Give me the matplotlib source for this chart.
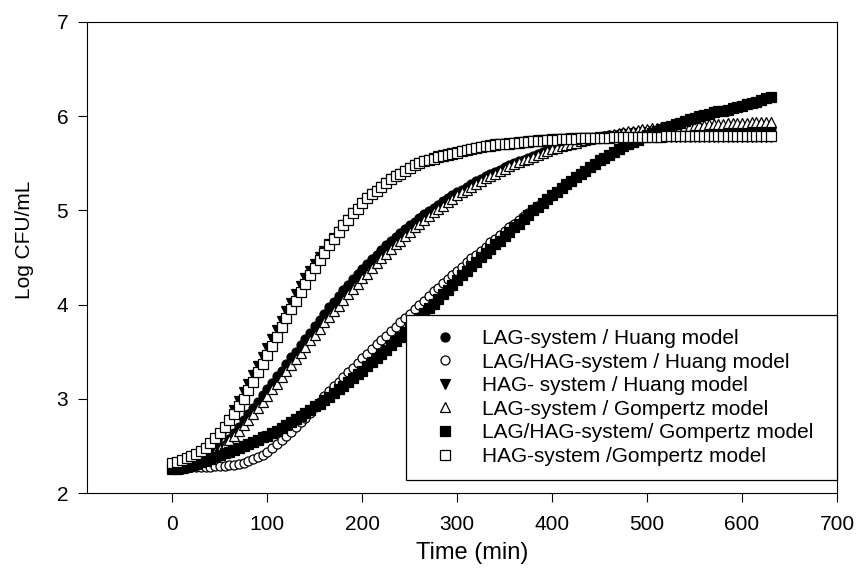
import matplotlib
matplotlib.use('Agg')
import matplotlib.pyplot as plt

plt.rcParams['font.family'] = ['Liberation Sans', 'DejaVu Sans']

# time points (min), shared by all model curves
time_min = [0, 5, 10, 15, 20, 25, 30, 35, 40, 45,
            50, 55, 60, 65, 70, 75, 80, 85, 90, 95,
            100, 105, 110, 115, 120, 125, 130, 135, 140, 145,
            150, 155, 160, 165, 170, 175, 180, 185, 190, 195,
            200, 205, 210, 215, 220, 225, 230, 235, 240, 245,
            250, 255, 260, 265, 270, 275, 280, 285, 290, 295,
            300, 305, 310, 315, 320, 325, 330, 335, 340, 345,
            350, 355, 360, 365, 370, 375, 380, 385, 390, 395,
            400, 405, 410, 415, 420, 425, 430, 435, 440, 445,
            450, 455, 460, 465, 470, 475, 480, 485, 490, 495,
            500, 505, 510, 515, 520, 525, 530, 535, 540, 545,
            550, 555, 560, 565, 570, 575, 580, 585, 590, 595,
            600, 605, 610, 615, 620, 625, 630]

lag_huang = [2.26, 2.26, 2.26, 2.27, 2.28, 2.29, 2.31, 2.33, 2.36, 2.40,
             2.45, 2.51, 2.57, 2.64, 2.70, 2.77, 2.84, 2.90, 2.97, 3.04,
             3.10, 3.17, 3.24, 3.30, 3.37, 3.44, 3.50, 3.57, 3.64, 3.70,
             3.77, 3.84, 3.90, 3.97, 4.03, 4.09, 4.15, 4.21, 4.27, 4.33,
             4.38, 4.43, 4.48, 4.53, 4.58, 4.63, 4.67, 4.72, 4.76, 4.80,
             4.84, 4.88, 4.92, 4.96, 4.99, 5.03, 5.06, 5.10, 5.13, 5.16,
             5.19, 5.22, 5.25, 5.28, 5.31, 5.33, 5.36, 5.39, 5.41, 5.43,
             5.46, 5.48, 5.50, 5.52, 5.54, 5.56, 5.58, 5.60, 5.62, 5.64,
             5.65, 5.67, 5.68, 5.70, 5.71, 5.72, 5.74, 5.75, 5.76, 5.77,
             5.78, 5.79, 5.80, 5.80, 5.81, 5.82, 5.82, 5.83, 5.83, 5.84,
             5.84, 5.85, 5.85, 5.85, 5.86, 5.86, 5.86, 5.86, 5.86, 5.87,
             5.87, 5.87, 5.87, 5.87, 5.87, 5.87, 5.87, 5.87, 5.87, 5.87,
             5.87, 5.87, 5.87, 5.87, 5.87, 5.87, 5.87]

laghag_huang = [2.28, 2.28, 2.28, 2.28, 2.28, 2.28, 2.28, 2.28, 2.28, 2.29,
                2.29, 2.29, 2.30, 2.30, 2.31, 2.32, 2.34, 2.36, 2.38, 2.40,
                2.43, 2.48, 2.52, 2.56, 2.61, 2.65, 2.70, 2.75, 2.80, 2.85,
                2.91, 2.97, 3.03, 3.08, 3.14, 3.18, 3.23, 3.28, 3.33, 3.38,
                3.43, 3.48, 3.53, 3.58, 3.62, 3.67, 3.72, 3.76, 3.81, 3.86,
                3.90, 3.95, 4.00, 4.04, 4.09, 4.14, 4.18, 4.23, 4.27, 4.31,
                4.36, 4.40, 4.45, 4.49, 4.53, 4.57, 4.61, 4.66, 4.70, 4.74,
                4.78, 4.82, 4.86, 4.90, 4.94, 4.97, 5.01, 5.05, 5.08, 5.12,
                5.16, 5.20, 5.24, 5.28, 5.31, 5.35, 5.39, 5.42, 5.46, 5.49,
                5.53, 5.56, 5.59, 5.62, 5.65, 5.68, 5.71, 5.73, 5.75, 5.78,
                5.80, 5.82, 5.84, 5.86, 5.88, 5.90, 5.92, 5.93, 5.95, 5.97,
                5.98, 6.00, 6.01, 6.02, 6.04, 6.05, 6.06, 6.07, 6.09, 6.10,
                6.11, 6.13, 6.14, 6.15, 6.17, 6.19, 6.20]

hag_huang = [2.26, 2.26, 2.26, 2.27, 2.28, 2.29, 2.31, 2.35, 2.41, 2.49,
             2.58, 2.68, 2.78, 2.88, 2.98, 3.07, 3.16, 3.25, 3.35, 3.44,
             3.54, 3.63, 3.73, 3.83, 3.93, 4.02, 4.11, 4.20, 4.28, 4.36,
             4.43, 4.50, 4.57, 4.64, 4.71, 4.77, 4.84, 4.90, 4.97, 5.02,
             5.08, 5.13, 5.17, 5.21, 5.25, 5.29, 5.33, 5.36, 5.39, 5.42,
             5.45, 5.48, 5.50, 5.52, 5.54, 5.56, 5.58, 5.59, 5.60, 5.61,
             5.62, 5.63, 5.64, 5.65, 5.66, 5.67, 5.68, 5.69, 5.70, 5.70,
             5.71, 5.72, 5.72, 5.73, 5.73, 5.74, 5.74, 5.75, 5.75, 5.75,
             5.76, 5.76, 5.76, 5.76, 5.77, 5.77, 5.77, 5.77, 5.77, 5.77,
             5.78, 5.78, 5.78, 5.78, 5.78, 5.78, 5.78, 5.78, 5.78, 5.78,
             5.78, 5.78, 5.78, 5.78, 5.78, 5.78, 5.78, 5.78, 5.78, 5.78,
             5.78, 5.78, 5.78, 5.78, 5.78, 5.78, 5.78, 5.78, 5.78, 5.78,
             5.78, 5.78, 5.78, 5.78, 5.78, 5.78, 5.78]

lag_gompertz = [2.28, 2.28, 2.29, 2.30, 2.31, 2.33, 2.35, 2.37, 2.40, 2.43,
                2.47, 2.51, 2.56, 2.61, 2.66, 2.72, 2.78, 2.84, 2.90, 2.97,
                3.03, 3.10, 3.16, 3.23, 3.29, 3.36, 3.42, 3.49, 3.55, 3.62,
                3.68, 3.74, 3.81, 3.87, 3.93, 3.99, 4.05, 4.11, 4.17, 4.22,
                4.28, 4.33, 4.39, 4.44, 4.49, 4.54, 4.59, 4.64, 4.68, 4.73,
                4.77, 4.82, 4.86, 4.90, 4.94, 4.98, 5.02, 5.05, 5.09, 5.12,
                5.16, 5.19, 5.22, 5.25, 5.28, 5.31, 5.34, 5.37, 5.39, 5.42,
                5.44, 5.47, 5.49, 5.51, 5.53, 5.55, 5.57, 5.59, 5.61, 5.63,
                5.65, 5.66, 5.68, 5.69, 5.71, 5.72, 5.74, 5.75, 5.76, 5.77,
                5.78, 5.79, 5.80, 5.81, 5.82, 5.83, 5.84, 5.84, 5.85, 5.86,
                5.86, 5.87, 5.87, 5.88, 5.88, 5.89, 5.89, 5.90, 5.90, 5.90,
                5.91, 5.91, 5.91, 5.92, 5.92, 5.92, 5.92, 5.93, 5.93, 5.93,
                5.93, 5.93, 5.94, 5.94, 5.94, 5.94, 5.94]

laghag_gompertz = [2.25, 2.26, 2.27, 2.29, 2.30, 2.31, 2.33, 2.34, 2.36, 2.38,
                   2.40, 2.42, 2.44, 2.46, 2.48, 2.50, 2.52, 2.54, 2.56, 2.59,
                   2.61, 2.64, 2.66, 2.69, 2.72, 2.75, 2.79, 2.82, 2.85, 2.88,
                   2.92, 2.95, 2.99, 3.02, 3.06, 3.10, 3.14, 3.18, 3.22, 3.26,
                   3.30, 3.35, 3.39, 3.43, 3.48, 3.52, 3.57, 3.61, 3.66, 3.71,
                   3.76, 3.81, 3.86, 3.91, 3.96, 4.01, 4.06, 4.11, 4.16, 4.21,
                   4.26, 4.31, 4.36, 4.41, 4.45, 4.50, 4.55, 4.59, 4.64, 4.68,
                   4.73, 4.77, 4.82, 4.86, 4.91, 4.95, 5.00, 5.04, 5.08, 5.12,
                   5.16, 5.20, 5.24, 5.28, 5.31, 5.35, 5.39, 5.42, 5.46, 5.49,
                   5.53, 5.56, 5.59, 5.62, 5.65, 5.68, 5.71, 5.73, 5.75, 5.78,
                   5.80, 5.82, 5.84, 5.86, 5.88, 5.90, 5.92, 5.93, 5.95, 5.97,
                   5.98, 6.00, 6.01, 6.02, 6.04, 6.05, 6.06, 6.07, 6.09, 6.10,
                   6.11, 6.13, 6.14, 6.15, 6.17, 6.19, 6.20]

hag_gompertz = [2.32, 2.33, 2.35, 2.37, 2.39, 2.41, 2.45, 2.48, 2.53, 2.58,
                2.64, 2.70, 2.77, 2.84, 2.92, 3.00, 3.09, 3.18, 3.28, 3.37,
                3.47, 3.56, 3.66, 3.76, 3.86, 3.95, 4.04, 4.13, 4.22, 4.31,
                4.39, 4.47, 4.55, 4.63, 4.70, 4.77, 4.84, 4.90, 4.97, 5.02,
                5.08, 5.13, 5.17, 5.21, 5.25, 5.29, 5.33, 5.36, 5.39, 5.42,
                5.45, 5.48, 5.50, 5.52, 5.53, 5.55, 5.57, 5.58, 5.59, 5.60,
                5.61, 5.63, 5.64, 5.65, 5.66, 5.67, 5.68, 5.68, 5.69, 5.70,
                5.71, 5.71, 5.72, 5.72, 5.73, 5.73, 5.74, 5.74, 5.74, 5.75,
                5.75, 5.75, 5.76, 5.76, 5.76, 5.76, 5.77, 5.77, 5.77, 5.77,
                5.77, 5.77, 5.77, 5.78, 5.78, 5.78, 5.78, 5.78, 5.78, 5.78,
                5.78, 5.78, 5.78, 5.78, 5.79, 5.79, 5.79, 5.79, 5.79, 5.79,
                5.79, 5.79, 5.79, 5.79, 5.79, 5.79, 5.79, 5.79, 5.79, 5.79,
                5.79, 5.79, 5.79, 5.79, 5.79, 5.79, 5.79]

series = [
    ('LAG-system / Huang model', lag_huang, 'o', 'black', 6.5),
    ('LAG/HAG-system / Huang model', laghag_huang, 'o', 'white', 6.5),
    ('HAG- system / Huang model', hag_huang, 'v', 'black', 7),
    ('LAG-system / Gompertz model', lag_gompertz, '^', 'white', 7),
    ('LAG/HAG-system/ Gompertz model', laghag_gompertz, 's', 'black', 6.8),
    ('HAG-system /Gompertz model', hag_gompertz, 's', 'white', 6.8),
]

fig = plt.figure(figsize=(8.56, 5.71), dpi=100)
ax = fig.add_axes([0.1016, 0.1366, 0.8762, 0.8249])

for label, vals, marker, face, ms in series:
    ax.plot(time_min, vals, linestyle='none', marker=marker, markersize=ms,
            markerfacecolor=face, markeredgecolor='black', markeredgewidth=0.9,
            label=label)

ax.set_xlim(-90, 700)
ax.set_ylim(2, 7)
ax.set_xticks(range(0, 701, 100))
ax.set_yticks(range(2, 8))
ax.tick_params(direction='out', length=6.5, width=0.8, labelsize=15, pad=7)
ax.tick_params(axis='x', pad=9)
for sp in ax.spines.values():
    sp.set_linewidth(0.8)

fig.text(0.029, 0.58, 'Log CFU/mL', rotation=90, ha='center', va='center', fontsize=15)
fig.text(0.552, 0.032, 'Time (min)', ha='center', va='center', fontsize=17)

leg = ax.legend(loc='lower left', bbox_to_anchor=(0.4253, 0.028, 0.5747, 0.3),
                mode='expand', borderaxespad=0,
                fontsize=15, frameon=True, fancybox=False, framealpha=1,
                edgecolor='black', borderpad=0.67, handlelength=2.4,
                handletextpad=0.58, labelspacing=0.22)
leg.get_frame().set_linewidth(0.9)

fig.savefig('out.png', dpi=100)
